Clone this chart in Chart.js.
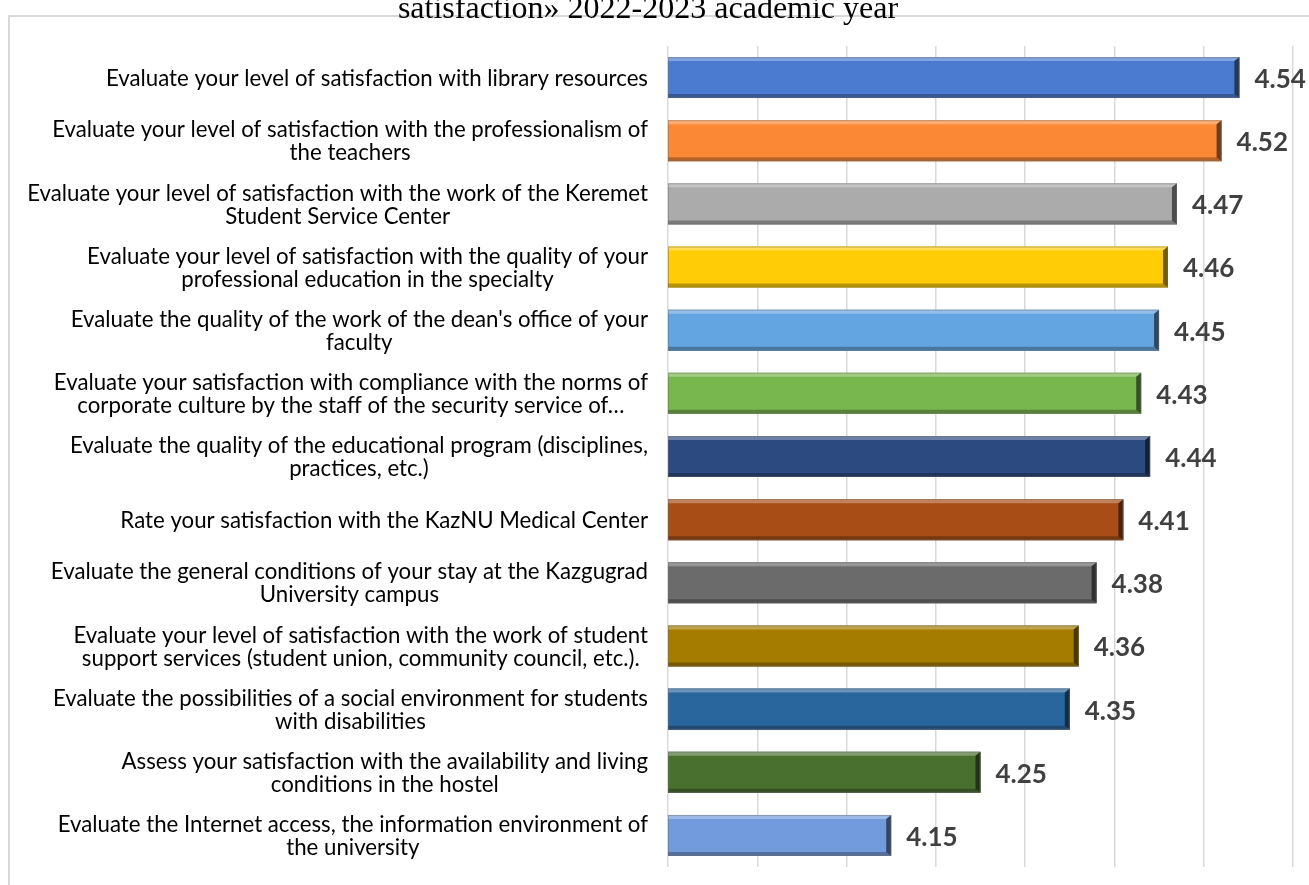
<!DOCTYPE html>
<html>
<head>
<meta charset="utf-8">
<script src="https://cdn.jsdelivr.net/npm/chart.js@4.4.1/dist/chart.umd.min.js"></script>
<style>
  html, body { margin: 0; padding: 0; background: #ffffff; }
  #wrap { position: relative; width: 1309px; height: 885px; overflow: hidden; background: #fff; }
  #title { position: absolute; top: -9px; left: 648px; transform: translateX(-50%); white-space: nowrap;
           font-family: "Liberation Serif", "Times New Roman", serif; font-size: 32px; line-height: 32px; color: #000; z-index: 2; }
  #frame { position: absolute; left: 8px; top: 15px; width: 1400px; height: 1000px;
           border-left: 2px solid #d9d9d9; border-top: 2px solid #d9d9d9; }
  canvas { position: absolute; left: 0; top: 0; }
</style>
</head>
<body>
<div id="wrap">
  <div id="frame"></div>
  <div id="title">satisfaction» 2022-2023 academic year</div>
  <canvas id="c" width="1309" height="885"></canvas>
</div>
<script>
const categories = [
  ["Evaluate your level of satisfaction with library resources"],
  ["Evaluate your level of satisfaction with the professionalism of", "the teachers"],
  ["Evaluate your level of satisfaction with the work of the Keremet", "Student Service Center"],
  ["Evaluate your level of satisfaction with the quality of your", "professional education in the specialty"],
  ["Evaluate the quality of the work of the dean's office of your", "faculty"],
  ["Evaluate your satisfaction with compliance with the norms of", "corporate culture by the staff of the security service of…"],
  ["Evaluate the quality of the educational program (disciplines,", "practices, etc.)"],
  ["Rate your satisfaction with the KazNU Medical Center"],
  ["Evaluate the general conditions of your stay at the Kazgugrad", "University campus"],
  ["Evaluate your level of satisfaction with the work of student", "support services (student union, community council, etc.)."],
  ["Evaluate the possibilities of a social environment for students", "with disabilities"],
  ["Assess your satisfaction with the availability and living", "conditions in the hostel"],
  ["Evaluate the Internet access, the information environment of", "the university"]
];
const values = [4.54, 4.52, 4.47, 4.46, 4.45, 4.43, 4.44, 4.41, 4.38, 4.36, 4.35, 4.25, 4.15];
const valueLabels = ["4.54", "4.52", "4.47", "4.46", "4.45", "4.43", "4.44", "4.41", "4.38", "4.36", "4.35", "4.25", "4.15"];
const barColors = ["#4B7BD0", "#FB8835", "#ABABAB", "#FFCC05", "#63A5E1", "#78B64E", "#2C4A80",
                   "#A84D15", "#6B6B6B", "#A57C00", "#2A669E", "#4A7030", "#729BDD"];
const axisMin = 3.9, axisMax = 4.6, axisStep = 0.1;

function hexToRgb(h) { h = h.replace('#', ''); return [0, 2, 4].map(i => parseInt(h.substr(i, 2), 16)); }
function mix(hex, target, t) {
  const c = hexToRgb(hex);
  const r = c.map(v => Math.round(v + (target - v) * t));
  return 'rgb(' + r.join(',') + ')';
}

const LABEL_FONT_FAMILY = 'Lato, "Noto Sans", sans-serif';
const LABEL_RIGHT = 648;
const LINE_H = 23;

function labelFontSize(ctx) {
  ctx.font = '20px ' + LABEL_FONT_FAMILY;
  let maxW = 0;
  categories.forEach(ls => ls.forEach(l => { maxW = Math.max(maxW, ctx.measureText(l).width); }));
  return 20 * 621 / maxW;
}

const bevelPlugin = {
  id: 'bevel',
  afterDatasetsDraw(chart) {
    const ctx = chart.ctx;
    const meta = chart.getDatasetMeta(0);
    meta.data.forEach((el, i) => {
      const left = chart.chartArea.left, right = el.x;
      const top = el.y - el.height / 2, bottom = el.y + el.height / 2;
      const b = 4;
      const col = barColors[i];
      ctx.save();
      ctx.fillStyle = mix(col, 255, 0.3);
      ctx.beginPath(); ctx.moveTo(left, top); ctx.lineTo(right, top); ctx.lineTo(right - b, top + b); ctx.lineTo(left, top + b); ctx.closePath(); ctx.fill();
      ctx.fillStyle = mix(col, 0, 0.28);
      ctx.beginPath(); ctx.moveTo(left, bottom); ctx.lineTo(right, bottom); ctx.lineTo(right - b, bottom - b); ctx.lineTo(left, bottom - b); ctx.closePath(); ctx.fill();
      ctx.fillStyle = mix(col, 0, 0.55);
      ctx.beginPath(); ctx.moveTo(right, top); ctx.lineTo(right, bottom); ctx.lineTo(right - b - 1, bottom - b); ctx.lineTo(right - b - 1, top + b); ctx.closePath(); ctx.fill();
      ctx.strokeStyle = 'rgba(110,110,110,0.45)';
      ctx.lineWidth = 1;
      ctx.strokeRect(left + 0.5, top + 0.5, right - left - 1, bottom - top - 1);
      ctx.restore();
    });
  },
  afterDraw(chart) {
    const ctx = chart.ctx;
    const meta = chart.getDatasetMeta(0);
    const yScale = chart.scales.y;
    ctx.save();
    ctx.fillStyle = '#404040';
    ctx.font = 'bold 26px Lato, "Open Sans", sans-serif';
    ctx.textAlign = 'left';
    ctx.textBaseline = 'middle';
    meta.data.forEach((el, i) => {
      ctx.fillText(valueLabels[i], el.x + 15, el.y + 2);
    });
    ctx.restore();
    ctx.save();
    const fs = labelFontSize(ctx);
    ctx.font = fs.toFixed(2) + 'px ' + LABEL_FONT_FAMILY;
    ctx.fillStyle = '#000000';
    ctx.textAlign = 'center';
    ctx.textBaseline = 'middle';
    categories.forEach((lines, i) => {
      const cy = yScale.getPixelForValue(i);
      let w = 0;
      lines.forEach(l => { w = Math.max(w, ctx.measureText(l).width); });
      const cx = LABEL_RIGHT - w / 2;
      const y0 = cy - (lines.length - 1) * LINE_H / 2;
      lines.forEach((l, k) => ctx.fillText(l, cx, y0 + k * LINE_H + 1));
    });
    ctx.restore();
  }
};

new Chart(document.getElementById('c'), {
  type: 'bar',
  data: {
    labels: categories.map(ls => ls.join(' ')),
    datasets: [{
      data: values,
      backgroundColor: barColors,
      borderWidth: 0,
      barPercentage: 0.65,
      categoryPercentage: 1.0
    }]
  },
  options: {
    indexAxis: 'y',
    responsive: false,
    animation: false,
    devicePixelRatio: 1,
    layout: { padding: { left: 0, top: 46, right: 16, bottom: 18 } },
    plugins: { legend: { display: false }, tooltip: { enabled: false } },
    scales: {
      x: {
        min: axisMin, max: axisMax,
        ticks: { display: false, stepSize: axisStep },
        grid: { color: '#d9d9d9', lineWidth: 1.5, drawTicks: false },
        border: { display: false },
        afterFit(s) { s.height = 0; }
      },
      y: {
        ticks: { display: false },
        grid: { display: false },
        border: { display: false },
        afterFit(s) { s.width = 668; }
      }
    }
  },
  plugins: [bevelPlugin]
});
</script>
</body>
</html>
